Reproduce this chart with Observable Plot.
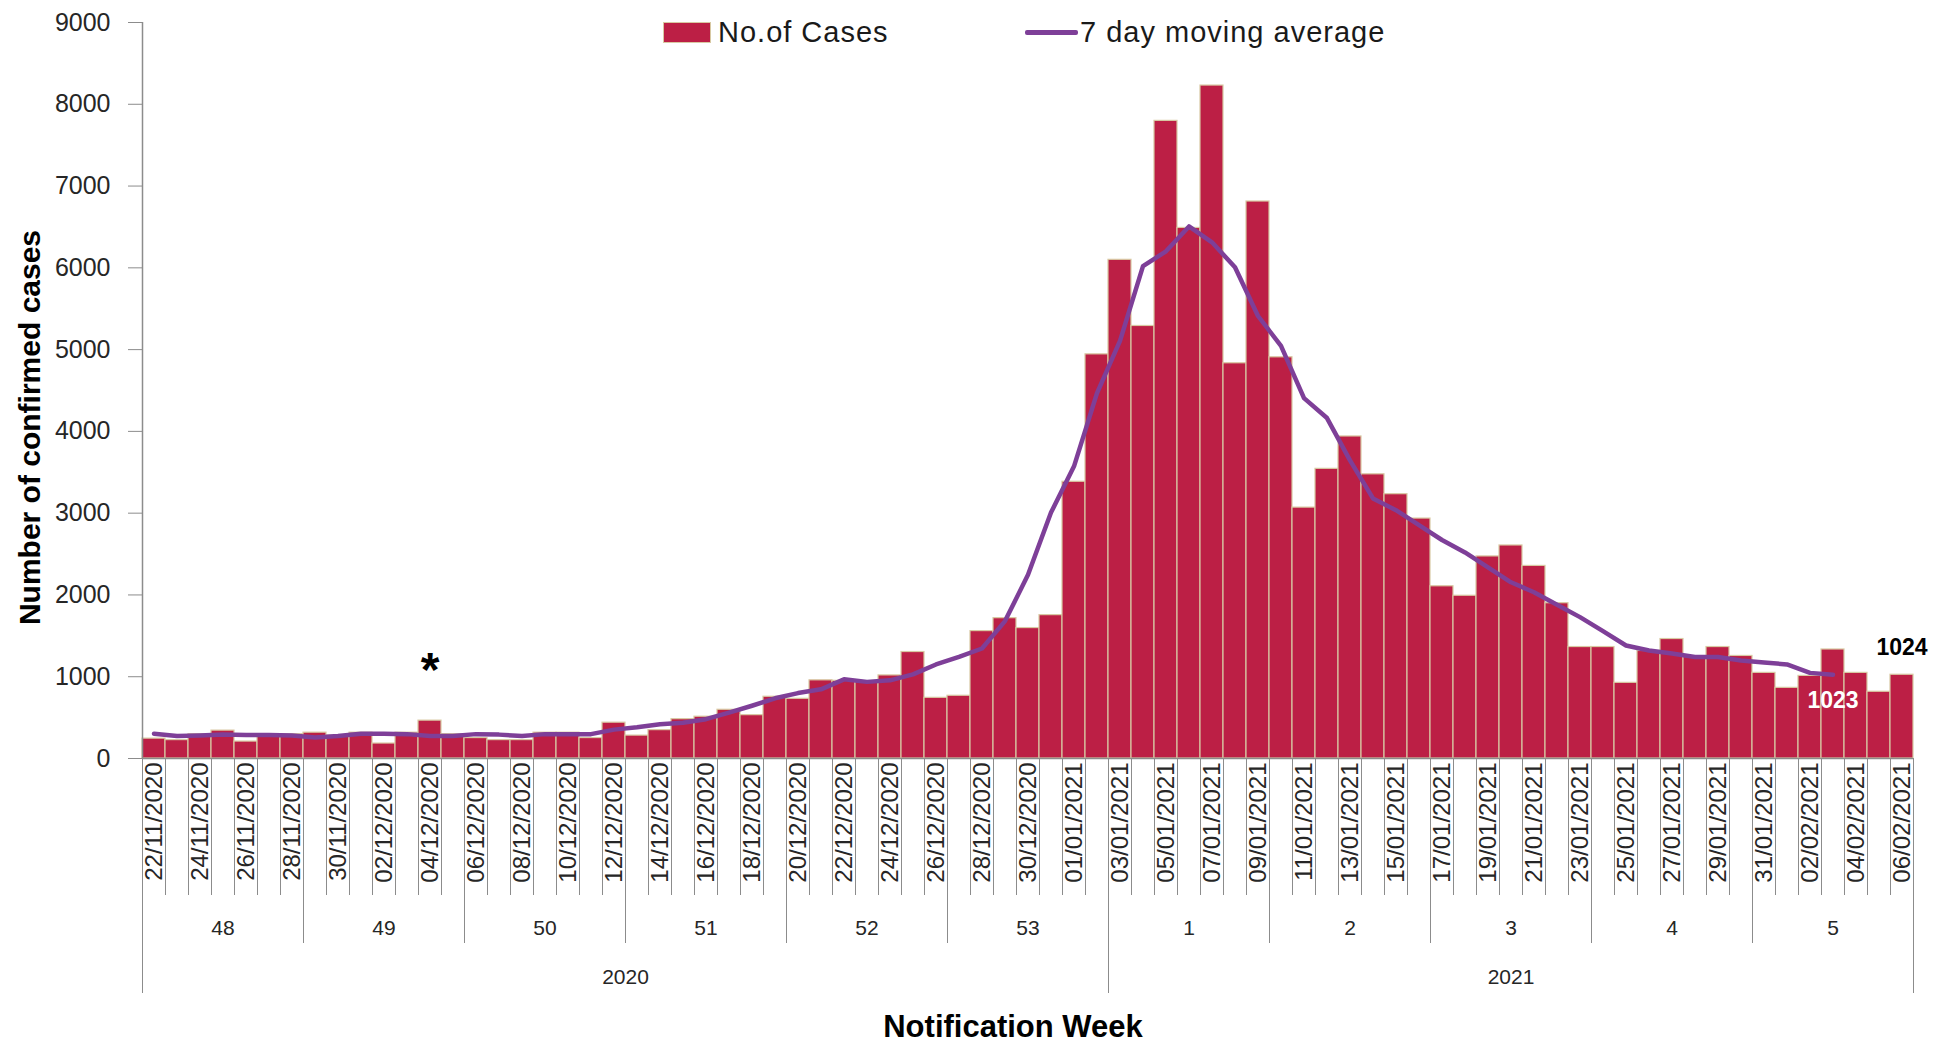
<!DOCTYPE html>
<html>
<head>
<meta charset="utf-8">
<script src="https://cdn.jsdelivr.net/npm/d3@7"></script>
<script src="https://cdn.jsdelivr.net/npm/@observablehq/plot@0.6"></script>
<style>
  html, body { margin: 0; padding: 0; background: #fff; }
  #wrap { position: relative; width: 1933px; height: 1042px; font-family: 'Liberation Sans', Arial, sans-serif; }
  #wrap svg { position: absolute; left: 0; top: 0; }
  .leg { position: absolute; font-size: 29px; line-height: 29px; color: #1a1a1a; letter-spacing: 1px; white-space: nowrap; }
</style>
</head>
<body>
<div id="wrap">
  <div id="chart"></div>
  <div style="position:absolute;left:663px;top:22px;width:48px;height:21px;background:#BC1F45;border:1.5px solid #D8C9A3;box-sizing:border-box;"></div>
  <div class="leg" style="left:718px;top:18px;">No.of Cases</div>
  <div style="position:absolute;left:1025px;top:30px;width:53px;height:5px;background:#7E3F98;border-radius:2px;"></div>
  <div class="leg" style="left:1080px;top:18px;">7 day moving average</div>
</div>
<script>
// ---------- data ----------
const dates = [
  "22/11/2020","23/11/2020","24/11/2020","25/11/2020","26/11/2020","27/11/2020","28/11/2020",
  "29/11/2020","30/11/2020","01/12/2020","02/12/2020","03/12/2020","04/12/2020","05/12/2020",
  "06/12/2020","07/12/2020","08/12/2020","09/12/2020","10/12/2020","11/12/2020","12/12/2020",
  "13/12/2020","14/12/2020","15/12/2020","16/12/2020","17/12/2020","18/12/2020","19/12/2020",
  "20/12/2020","21/12/2020","22/12/2020","23/12/2020","24/12/2020","25/12/2020","26/12/2020",
  "27/12/2020","28/12/2020","29/12/2020","30/12/2020","31/12/2020","01/01/2021","02/01/2021",
  "03/01/2021","04/01/2021","05/01/2021","06/01/2021","07/01/2021","08/01/2021","09/01/2021",
  "10/01/2021","11/01/2021","12/01/2021","13/01/2021","14/01/2021","15/01/2021","16/01/2021",
  "17/01/2021","18/01/2021","19/01/2021","20/01/2021","21/01/2021","22/01/2021","23/01/2021",
  "24/01/2021","25/01/2021","26/01/2021","27/01/2021","28/01/2021","29/01/2021","30/01/2021",
  "31/01/2021","01/02/2021","02/02/2021","03/02/2021","04/02/2021","05/02/2021","06/02/2021"
];

const cases = [
  243, 225, 298, 341, 207, 298, 298,
  316, 280, 316, 183, 316, 463, 298,
  250, 225, 225, 316, 316, 250, 438,
  280, 347, 481, 511, 596, 530, 755,
  730, 956, 950, 937, 1016, 1302, 742,
  767, 1558, 1716, 1595, 1753, 3384, 4942,
  6098, 5289, 7797, 6488, 8229, 4833, 6811,
  4906, 3068, 3542, 3938, 3475, 3232, 2934,
  2106, 1990, 2471, 2605, 2355, 1899, 1363,
  1363, 925, 1315, 1461, 1242, 1363, 1254,
  1047, 864, 1010, 1333, 1047, 816, 1024
];

const movingAverage = [
  304, 274, 280, 292, 286, 286, 280,
  256, 274, 304, 304, 298, 274, 274,
  298, 292, 274, 298, 298, 298, 353,
  383, 420, 438, 481, 560, 645, 736,
  800, 846, 968, 937, 956, 1029, 1150,
  1242, 1345, 1680, 2246, 3007, 3573, 4467,
  5107, 6020, 6202, 6506, 6312, 6007, 5411,
  5046, 4407, 4163, 3646, 3180, 3037, 2855,
  2672, 2520, 2337, 2155, 2033, 1881, 1729,
  1558, 1382, 1321, 1284, 1242, 1242, 1199,
  1175, 1150, 1047, 1023
];

const weeks = ["48", "49", "50", "51", "52", "53", "1", "2", "3", "4", "5"];
const years = ["2020", "2021"];
const weeksPerYear = [6, 5];
const yTicks = [0, 1000, 2000, 3000, 4000, 5000, 6000, 7000, 8000, 9000];
const starIndex = 12;          // 04/12/2020 marked with *
const lastCaseLabel = "1024";
const lastAverageLabel = "1023";

// ---------- derived tables ----------
const days = dates.map((d, i) => ({i, date: d, cases: cases[i]}));
const avg = movingAverage.map((v, i) => ({i, v}));
const nDays = dates.length;
const dayEdges = d3.range(nDays + 1);
const dateLabelPos = days.filter(d => d.i % 2 === 0).map(d => d.i + 0.5);
const weekEdges = d3.range(weeks.length + 1).map(w => w * 7);
const weekCenters = weeks.map((w, k) => k * 7 + 3.5);
const yearEdges = [0];
weeksPerYear.forEach(n => yearEdges.push(yearEdges[yearEdges.length - 1] + n * 7));
const yearCenters = years.map((y, k) => (yearEdges[k] + yearEdges[k + 1]) / 2);

const FONT = "'Liberation Sans', Arial, sans-serif";
const GRID = "#8c8c8c";
const TXT = "#262626";
const BAR = "#BC1F45";
const BAR_EDGE = "#D8C9A3";
const LINE = "#7E3F98";

const chart = Plot.plot({
  width: 1933,
  height: 1042,
  marginLeft: 142,
  marginRight: 20,
  marginTop: 22,
  marginBottom: 284,
  style: {fontFamily: FONT, background: "white", overflow: "visible"},
  x: {domain: [0, nDays], axis: null},
  y: {domain: [0, 9000], axis: null},
  marks: [
    Plot.rectY(days, {x1: d => d.i, x2: d => d.i + 1, y: "cases", fill: BAR, stroke: BAR_EDGE, strokeWidth: 1.2}),
    Plot.line(avg, {x: d => d.i + 0.5, y: "v", stroke: LINE, strokeWidth: 4.5, strokeLinejoin: "round"}),
    Plot.ruleX([0], {stroke: GRID, strokeWidth: 1.5}),
    Plot.ruleY([0], {stroke: GRID, strokeWidth: 1.5}),
    // y axis
    Plot.axisY(yTicks, {tickSize: 14, tickPadding: 18, fontSize: 25, stroke: GRID, fill: TXT, tickFormat: d => String(d), label: null}),
    // day separators
    Plot.axisX(dayEdges, {tickSize: 137, stroke: GRID, tickFormat: () => "", label: null}),
    // date labels
    Plot.axisX(dateLabelPos, {tickSize: 0, tickPadding: 4, tickRotate: -90, fontSize: 24, fill: TXT,
      tickFormat: d => dates[d - 0.5], label: null}),
    // week separators and labels
    Plot.axisX(weekEdges, {tickSize: 185, stroke: GRID, tickFormat: () => "", label: null}),
    Plot.axisX(weekCenters, {tickSize: 0, tickPadding: 162, fontSize: 21, fill: TXT,
      tickFormat: d => weeks[(d - 3.5) / 7], label: null}),
    // year separators and labels
    Plot.axisX(yearEdges, {tickSize: 235, stroke: GRID, tickFormat: () => "", label: null}),
    Plot.axisX(yearCenters, {tickSize: 0, tickPadding: 211, fontSize: 21, fill: TXT,
      tickFormat: d => years[yearCenters.indexOf(d)], label: null}),
    // annotations
    Plot.text([days[starIndex]], {x: d => d.i + 0.5, y: "cases", text: () => "*", fontSize: 48, fontWeight: "bold", dy: -50, fill: "#000"}),
    Plot.text([days[nDays - 1]], {x: d => d.i + 0.5, y: "cases", text: () => lastCaseLabel, fontSize: 23, fontWeight: "bold", dy: -27, fill: "#000"}),
    Plot.text([avg[avg.length - 1]], {x: d => d.i + 0.5, y: "v", text: () => lastAverageLabel, fontSize: 23, fontWeight: "bold", dy: 26, fill: "#fff"}),
    // axis titles
    Plot.text(["Number of confirmed cases"], {frameAnchor: "left", textAnchor: "middle", rotate: -90, dx: -112, dy: 37, fontSize: 30, fontWeight: "bold", fill: "#000"}),
    Plot.text(["Notification Week"], {frameAnchor: "bottom", textAnchor: "middle", dx: -15, dy: 278, fontSize: 31, fontWeight: "bold", fill: "#000"})
  ]
});
document.getElementById("chart").appendChild(chart);
</script>
</body>
</html>
